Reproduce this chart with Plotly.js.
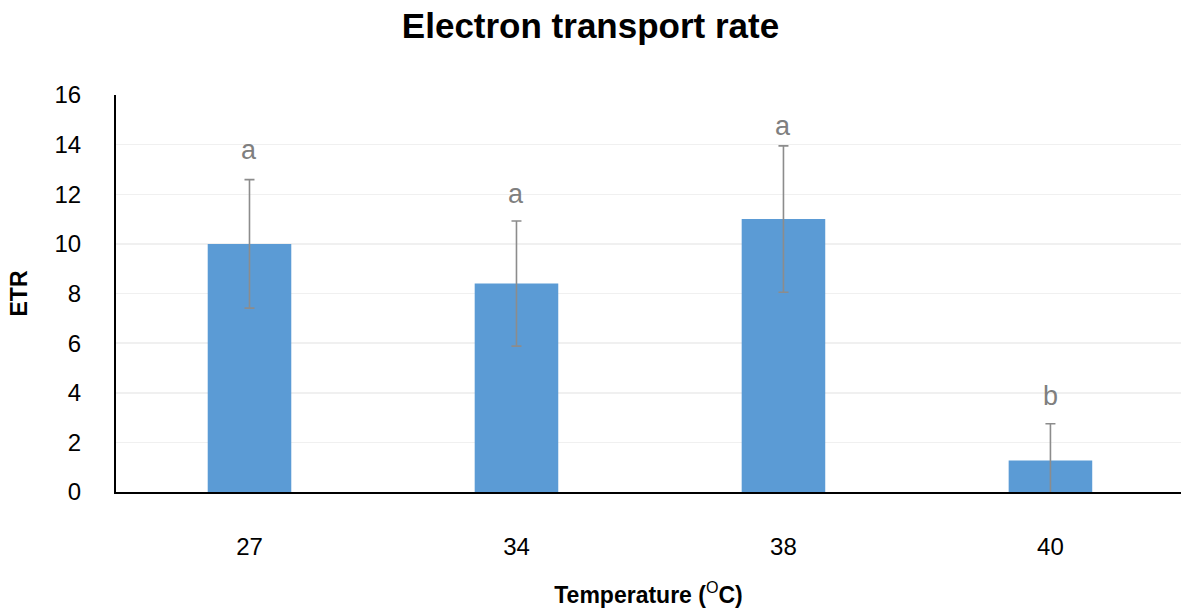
<!DOCTYPE html>
<html>
<head>
<meta charset="utf-8">
<script src="https://cdn.plot.ly/plotly-3.0.1.min.js"></script>
<style>
  html, body { margin: 0; padding: 0; background: #ffffff; }
  #chart { width: 1181px; height: 610px; }
</style>
</head>
<body>
<div id="chart"></div>
<script>
// Electron transport rate by growth temperature
const temperatures = ['27', '34', '38', '40'];
const etrMean = [10.0, 8.4, 11.0, 1.27];
const etrError = [2.59, 2.52, 2.95, 1.48];
const groupLetters = ['a', 'a', 'a', 'b'];
const letterY = [13.8, 12.0, 14.75, 3.85];

const font = 'Liberation Sans, Arial, sans-serif';

const trace = {
  type: 'bar',
  x: temperatures,
  y: etrMean,
  marker: { color: '#5b9bd5', line: { width: 0 } },
  error_y: {
    type: 'data',
    array: etrError,
    visible: true,
    color: '#8c8c8c',
    thickness: 1.6,
    width: 5
  },
  hoverinfo: 'x+y'
};

// significance letters sit above each bar (category index on the x axis)
const annotations = temperatures.map((t, i) => ({
  x: i,
  y: letterY[i],
  xref: 'x',
  yref: 'y',
  text: groupLetters[i],
  showarrow: false,
  font: { family: font, size: 27, color: '#7f7f7f' }
}));

const layout = {
  width: 1181,
  height: 610,
  margin: { l: 116, r: 0, t: 95, b: 118 },
  paper_bgcolor: '#ffffff',
  plot_bgcolor: '#ffffff',
  showlegend: false,
  bargap: 0.687,
  title: {
    text: '<b>Electron transport rate</b>',
    font: { family: font, size: 35, color: '#000000' },
    x: 0.5,
    xanchor: 'center',
    y: 0.958,
    yanchor: 'middle'
  },
  xaxis: {
    type: 'category',
    range: [-0.5, 3.489],
    showline: true,
    linecolor: '#000000',
    linewidth: 2,
    ticks: '',
    ticklabelstandoff: 32,
    tickfont: { family: font, size: 24, color: '#000000' },
    showgrid: false,
    zeroline: false,
    title: {
      text: '<b>Temperature (<span style="font-weight:normal"><sup>O</sup></span>C)</b>',
      font: { family: font, size: 23, color: '#000000' },
      standoff: 28
    }
  },
  yaxis: {
    range: [0, 16],
    dtick: 2,
    showline: true,
    linecolor: '#000000',
    linewidth: 2,
    ticks: '',
    ticklabelstandoff: 28,
    tickfont: { family: font, size: 24, color: '#000000' },
    showgrid: true,
    gridcolor: '#f0f0f0',
    gridwidth: 1.5,
    zeroline: false,
    title: {
      text: '<b>ETR</b>',
      font: { family: font, size: 23, color: '#000000' },
      standoff: 20
    }
  },
  annotations: annotations
};

Plotly.newPlot('chart', [trace], layout, { displayModeBar: false, staticPlot: true });
</script>
</body>
</html>
